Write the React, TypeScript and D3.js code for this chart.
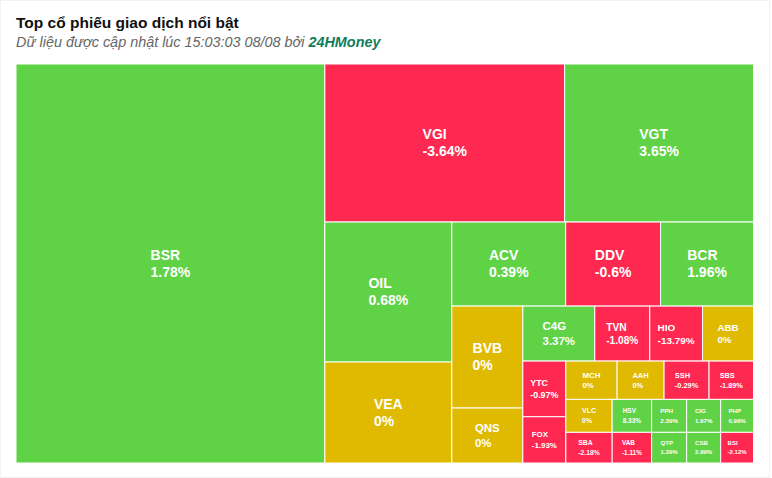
import React, { useMemo } from "react";
import * as d3 from "d3";

// ---- data (data order drives the layout) ----
const codes = [
  "BSR", "VGI", "VGT", "OIL", "VEA", "ACV", "DDV", "BCR", "BVB", "QNS",
  "C4G", "TVN", "HIO", "ABB", "YTC", "FOX", "MCH", "AAH", "SSH", "SBS",
  "VLC", "SBA", "HSV", "PPH", "CIG", "PHP", "VAB", "QTP", "CSB", "BSI",
];
const tradeValues = [
  123291, 37920, 29862, 17780, 12827, 9576, 7980, 7812, 7242, 3905,
  3960, 3025, 2900, 2805, 2395, 1991, 1965, 1800, 1724, 1704,
  1528, 1421, 1300, 1155, 1122, 1082, 1210, 1075, 1044, 1007,
];
const changes = [
  1.78, -3.64, 3.65, 0.68, 0, 0.39, -0.6, 1.96, 0, 0,
  3.37, -1.08, -13.79, 0, -0.97, -1.93, 0, 0, -0.29, -1.89,
  0, -2.18, 8.33, 2.39, 1.97, 0.99, -1.11, 1.39, 2.99, -2.12,
];

const title = "Top cổ phiếu giao dịch nổi bật";
const subtitlePrefix = "Dữ liệu được cập nhật lúc 15:03:03 08/08 bởi ";
const subtitleBrand = "24HMoney";

const W = 772;
const H = 478;
const plot = { x: 16, y: 64, w: 737.5, h: 399 };
const FONT = "'Liberation Sans', Arial, Helvetica, sans-serif";

const colorOf = (c: number) => (c > 0 ? "#5fd245" : c < 0 ? "#fe2850" : "#e0ba00");

// squarified tiling with strips alternating between column (left) and row (top)
function alternatingSquarify(parent: any, x0: number, y0: number, x1: number, y1: number) {
  const nodes = parent.children;
  const n = nodes.length;
  let value = parent.value;
  let vertical = true;
  let i0 = 0;
  while (i0 < n) {
    const dx = x1 - x0, dy = y1 - y0;
    const len = vertical ? dy : dx;
    const scale = (dx * dy) / value;
    let sum = 0, best = Infinity, i1 = i0;
    while (i1 < n) {
      const s = sum + nodes[i1].value;
      const thick = (s * scale) / len;
      let worst = 0;
      for (let k = i0; k <= i1; k++) {
        const l = (nodes[k].value * scale) / thick;
        worst = Math.max(worst, l / thick, thick / l);
      }
      if (worst > best) break;
      best = worst;
      sum = s;
      i1++;
    }
    const row: any = { value: sum, children: nodes.slice(i0, i1) };
    if (vertical) {
      const nx = x0 + (dx * sum) / value;
      d3.treemapSlice(row, x0, y0, nx, y1);
      x0 = nx;
    } else {
      const ny = y0 + (dy * sum) / value;
      d3.treemapDice(row, x0, y0, x1, ny);
      y0 = ny;
    }
    value -= sum;
    vertical = !vertical;
    i0 = i1;
  }
}

const fontScale = d3
  .scaleLinear()
  .domain([32, 38, 44, 54, 63, 72])
  .range([6, 6.8, 7.8, 10, 11.5, 14])
  .clamp(true);

let ctx: CanvasRenderingContext2D | null = null;
function measure(text: string, size: number) {
  if (!ctx) ctx = document.createElement("canvas").getContext("2d");
  if (!ctx) return text.length * size * 0.6;
  ctx.font = `bold ${size}px 'Liberation Sans', Arial, sans-serif`;
  return ctx.measureText(text).width;
}

export default function App() {
  const leaves = useMemo(() => {
    const items = codes.map((code, i) => ({ code, value: tradeValues[i], change: changes[i] }));
    const root = d3.hierarchy<any>({ children: items }).sum((d: any) => d.value || 0);
    d3.treemap<any>().tile(alternatingSquarify as any).size([plot.w, plot.h]).round(false)(root);
    return root.leaves() as any[];
  }, []);

  return (
    <svg
      width={W}
      height={H}
      style={{ position: "absolute", left: 0, top: 0, fontFamily: FONT }}
    >
      <rect x={0.5} y={0.5} width={769} height={H - 1} fill="#fff" stroke="#f2f2f2" />
      <text x={16} y={28} fontSize={15.5} fontWeight="bold" fill="#111">
        {title}
      </text>
      <text x={16} y={47} fontSize={14.4} fontStyle="italic" fill="#666">
        {subtitlePrefix}
        <tspan fontWeight="bold" fill="#107d5a">
          {subtitleBrand}
        </tspan>
      </text>
      <g transform={`translate(${plot.x},${plot.y})`}>
        {leaves.map((d) => {
          const w = d.x1 - d.x0;
          const h = d.y1 - d.y0;
          const fs = fontScale(Math.sqrt(w * h));
          const line1 = d.data.code;
          const line2 = `${d.data.change}%`;
          const bw = Math.max(measure(line1, fs), measure(line2, fs));
          const cx = (d.x0 + d.x1) / 2;
          const cy = (d.y0 + d.y1) / 2;
          const lh = fs + 3;
          const tx = cx - bw / 2;
          return (
            <g key={d.data.code}>
              <rect
                x={d.x0}
                y={d.y0}
                width={w}
                height={h}
                fill={colorOf(d.data.change)}
                stroke="#fff"
                strokeWidth={1}
              />
              <text fontSize={fs} fontWeight="bold" fill="#fff">
                <tspan x={tx} y={cy - lh / 2 + fs * 0.35}>
                  {line1}
                </tspan>
                <tspan x={tx} y={cy + lh / 2 + fs * 0.35}>
                  {line2}
                </tspan>
              </text>
            </g>
          );
        })}
      </g>
    </svg>
  );
}
